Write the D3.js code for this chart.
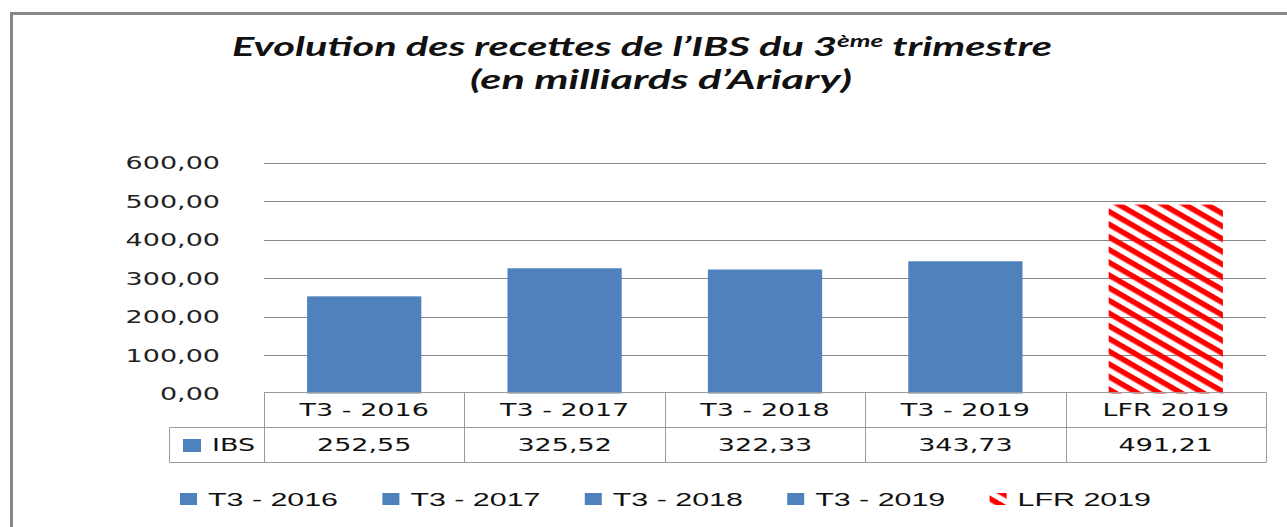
<!DOCTYPE html>
<html>
<head>
<meta charset="utf-8">
<script src="https://cdn.jsdelivr.net/npm/d3@7"></script>
<style>
  body { margin: 0; background: #fff; }
  svg { display: block; }
</style>
</head>
<body>
<div id="chart"></div>
<script>
// data
let categories = ["T3 - 2016", "T3 - 2017", "T3 - 2018", "T3 - 2019", "LFR 2019"];
let values = [252.55, 325.52, 322.33, 343.73, 491.21];
let seriesName = "IBS";
let yTicks = [0, 100, 200, 300, 400, 500, 600];
let titleLine1 = ["Evolution des recettes de l\u2019IBS du 3", "\u00e8me", " trimestre"];
let titleLine2 = "(en milliards d\u2019Ariary)";

let width = 1287, height = 527;
let blue = "#4F81BD";
let sx = 1.5; // the picture is stretched horizontally

let fr = d3.formatLocale({decimal: ",", thousands: " ", grouping: [3], currency: ["", ""]});
let fmt = fr.format(".2f");

let svg = d3.select("#chart")
  .append("svg")
    .attr("width", width)
    .attr("height", height);

// hatch for the LFR bar
svg.append("defs")
  .append("pattern")
    .attr("id", "hatch")
    .attr("patternUnits", "userSpaceOnUse")
    .attr("width", 11)
    .attr("height", 11)
    .attr("patternTransform", "rotate(30)")
  .append("rect")
    .attr("width", 11)
    .attr("height", 5.5)
    .attr("fill", "#FF0000");

// frame
svg.append("rect")
  .attr("x", 11.5).attr("y", 13.5)
  .attr("width", 1400).attr("height", 700)
  .attr("fill", "none")
  .attr("stroke", "#878787")
  .attr("stroke-width", 3);

// title
let t1 = svg.append("text")
  .attr("x", 232).attr("y", 56)
  .attr("textLength", 820)
  .attr("lengthAdjust", "spacingAndGlyphs")
  .style("font-family", "Lato, 'Open Sans', sans-serif")
  .style("font-weight", "bold")
  .style("font-style", "italic")
  .style("font-size", "27px")
  .attr("fill", "#111");
t1.append("tspan").text(titleLine1[0]);
t1.append("tspan").attr("dy", -9).style("font-size", "17px").text(titleLine1[1]);
t1.append("tspan").attr("dy", 9).text(titleLine1[2]);

svg.append("text")
  .attr("x", 470).attr("y", 89)
  .attr("textLength", 382)
  .attr("lengthAdjust", "spacingAndGlyphs")
  .style("font-family", "Lato, 'Open Sans', sans-serif")
  .style("font-weight", "bold")
  .style("font-style", "italic")
  .style("font-size", "27px")
  .attr("fill", "#111")
  .text(titleLine2);

// scales
let x = d3.scaleBand()
  .domain(categories)
  .range([264, 1266])
  .padding(0);

let y = d3.scaleLinear()
  .domain([0, 600])
  .range([393.5, 162.7]);

// gridlines + tick labels
svg.append("g")
  .selectAll("line")
  .data(yTicks.filter(d => d > 0))
  .enter().append("line")
    .attr("x1", 264).attr("x2", 1266)
    .attr("y1", d => Math.round(y(d)) + 0.5)
    .attr("y2", d => Math.round(y(d)) + 0.5)
    .attr("stroke", "#878787")
    .attr("stroke-width", 1);

svg.append("g")
  .selectAll("text")
  .data(yTicks)
  .enter().append("text")
    .attr("transform", d => "translate(220," + y(d) + ") scale(" + sx + ",1)")
    .attr("dy", "0.36em")
    .attr("text-anchor", "end")
    .style("font-family", "'DejaVu Sans', sans-serif")
    .style("font-size", "18px")
    .attr("fill", "#222")
    .text(d => fmt(d));

// bars
let barW = x.bandwidth() * 0.57;
svg.append("g")
  .selectAll("rect")
  .data(values)
  .enter().append("rect")
    .attr("x", (d, i) => x(categories[i]) + (x.bandwidth() - barW) / 2)
    .attr("y", d => y(d))
    .attr("width", barW)
    .attr("height", d => y(0) - y(d))
    .attr("fill", (d, i) => categories[i] == "LFR 2019" ? "url(#hatch)" : blue);

// data table
let rowTop = 392.5, rowMid = 427.5, rowBot = 462.5, leftCell = 169.5;
let table = svg.append("g")
  .attr("stroke", "#9a9a9a")
  .attr("stroke-width", 1)
  .attr("fill", "none");

table.append("path")
  .attr("d", "M264," + rowTop + "H1266M" + leftCell + "," + rowMid + "H1266M" + leftCell + "," + rowBot + "H1266"
    + "M" + leftCell + "," + rowMid + "V" + rowBot);
table.selectAll("line")
  .data(categories.concat(["end"]))
  .enter().append("line")
    .attr("x1", (d, i) => Math.round(264 + i * x.step()) + 0.5)
    .attr("x2", (d, i) => Math.round(264 + i * x.step()) + 0.5)
    .attr("y1", rowTop)
    .attr("y2", rowBot);

let cellText = function(sel) {
  sel.attr("text-anchor", "middle")
    .attr("dy", "0.36em")
    .style("font-family", "'DejaVu Sans', sans-serif")
    .style("font-size", "18px")
    .attr("fill", "#111");
};

svg.append("g")
  .selectAll("text")
  .data(categories)
  .enter().append("text")
    .attr("transform", d => "translate(" + (x(d) + x.bandwidth() / 2) + "," + 410 + ") scale(" + sx + ",1)")
    .call(cellText)
    .text(d => d);

svg.append("g")
  .selectAll("text")
  .data(values)
  .enter().append("text")
    .attr("transform", (d, i) => "translate(" + (x(categories[i]) + x.bandwidth() / 2) + "," + 445 + ") scale(" + sx + ",1)")
    .call(cellText)
    .text(d => fmt(d));

// series key in the table
svg.append("rect")
  .attr("x", 183).attr("y", 439)
  .attr("width", 18).attr("height", 13)
  .attr("fill", blue);
svg.append("text")
  .attr("transform", "translate(212,445) scale(" + sx + ",1)")
  .call(cellText)
  .attr("text-anchor", "start")
  .text(seriesName);

// legend
let legend = svg.selectAll(".legend")
  .data(categories)
  .enter().append("g")
    .attr("class", "legend")
    .attr("transform", (d, i) => "translate(" + (180 + i * 202.4) + ",0)");

legend.append("rect")
  .attr("x", 0).attr("y", 493)
  .attr("width", 17).attr("height", 12)
  .attr("fill", d => d == "LFR 2019" ? "url(#hatch)" : blue);

legend.append("text")
  .attr("transform", "translate(28,506) scale(1.6,1)")
  .style("font-family", "'Liberation Sans', Arial, sans-serif")
  .style("font-size", "19px")
  .attr("fill", "#111")
  .text(d => d);
</script>
</body>
</html>
